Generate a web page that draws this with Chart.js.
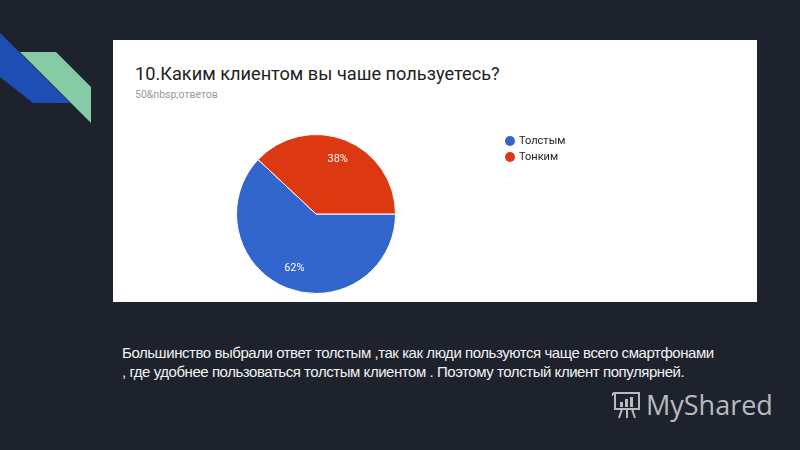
<!DOCTYPE html>
<html><head><meta charset="utf-8">
<script src="https://cdn.jsdelivr.net/npm/chart.js@4/dist/chart.umd.min.js"></script>
<style>
html,body{margin:0;padding:0;}
body{width:800px;height:450px;background:#1e222d;position:relative;overflow:hidden;font-family:"Liberation Sans",Arial,sans-serif;}
#deco{position:absolute;left:0;top:0;}
#panel{position:absolute;left:113px;top:40px;width:644px;height:262px;background:#fff;}
#title{position:absolute;left:22px;top:23px;font-family:Roboto,"Liberation Sans",sans-serif;font-size:18.2px;color:#212121;white-space:nowrap;}
#sub{position:absolute;left:22px;top:48px;font-family:Roboto,"Liberation Sans",sans-serif;font-size:10.5px;color:#9a9a9a;white-space:nowrap;}
#chart{position:absolute;left:0;top:0;}
#para{position:absolute;left:122px;top:343px;color:#f2f2f2;font-size:15px;line-height:19px;white-space:nowrap;letter-spacing:-0.45px;}
#wm{position:absolute;left:612px;top:386px;color:#c8ccd0;font-family:"Open Sans","DejaVu Sans",sans-serif;font-size:27px;white-space:nowrap;opacity:0.9;}
</style></head>
<body>
<svg id="deco" width="110" height="130">
  <polygon points="0,33 70,103 33,103 0,77" fill="#1f4fb4"/>
  <polygon points="20,52 56,52 91,87 91,123" fill="#86cba6"/>
</svg>
<div id="panel">
  <div id="title">10.Каким клиентом вы чаше пользуетесь?</div>
  <div id="sub">50&amp;nbsp;ответов</div>
  <canvas id="chart" width="644" height="262"></canvas>
</div>
<div id="para">Большинство выбрали ответ толстым ,так как люди пользуются чаще всего смартфонами<br>, где удобнее пользоваться толстым клиентом . Поэтому толстый клиент популярней.</div>
<div id="wm"><svg width="30" height="30" viewBox="0 0 30 30" style="vertical-align:-4px;margin-right:4px"><g fill="none" stroke="#c8ccd0" stroke-width="2"><rect x="3" y="4" width="24" height="16"/><path d="M3 4 q-3 0 -3 3"/><path d="M10 20 L7 29 M15 20 L15 29 M20 20 L23 29"/></g><g fill="#c8ccd0"><rect x="8" y="13" width="3" height="5"/><rect x="13" y="10" width="3" height="8"/><rect x="18" y="8" width="3" height="10"/></g></svg>MyShared</div>
<script>
const categories = ["Толстым", "Тонким"];
const responses = [31, 19];
const sliceColors = ["#3366cc", "#dc3912"];

const pctLabels = {
  id: 'pctLabels',
  afterDatasetsDraw(chart) {
    const ctx = chart.ctx;
    const meta = chart.getDatasetMeta(0);
    const data = chart.data.datasets[0].data;
    const total = data.reduce((a, b) => a + b, 0);
    ctx.save();
    ctx.fillStyle = '#ffffff';
    ctx.font = '11px Roboto, "Liberation Sans", sans-serif';
    ctx.textAlign = 'center';
    ctx.textBaseline = 'middle';
    meta.data.forEach((arc, i) => {
      const p = arc.getProps(['x', 'y', 'startAngle', 'endAngle', 'outerRadius']);
      const mid = (p.startAngle + p.endAngle) / 2;
      const r = p.outerRadius * 0.74;
      ctx.fillText(Math.round(data[i] / total * 100) + '%', p.x + Math.cos(mid) * r, p.y + Math.sin(mid) * r);
    });
    ctx.restore();
  }
};

const customLegend = {
  id: 'customLegend',
  afterDraw(chart) {
    const ctx = chart.ctx;
    ctx.save();
    ctx.font = '11px Roboto, "Liberation Sans", sans-serif';
    ctx.textBaseline = 'middle';
    chart.data.labels.forEach((lab, i) => {
      const y = 101 + i * 16;
      ctx.fillStyle = chart.data.datasets[0].backgroundColor[i];
      ctx.beginPath();
      ctx.arc(397, y, 5, 0, Math.PI * 2);
      ctx.fill();
      ctx.fillStyle = '#222222';
      ctx.fillText(lab, 406, y);
    });
    ctx.restore();
  }
};

new Chart(document.getElementById('chart'), {
  type: 'pie',
  data: {
    labels: categories,
    datasets: [{
      data: responses,
      backgroundColor: sliceColors,
      borderColor: '#ffffff',
      borderWidth: 1
    }]
  },
  options: {
    responsive: false,
    animation: false,
    rotation: 90,
    layout: { padding: { left: 123, right: 361, top: 94, bottom: 8 } },
    plugins: { legend: { display: false }, tooltip: { enabled: false } }
  },
  plugins: [pctLabels, customLegend]
});
</script>
</body></html>
